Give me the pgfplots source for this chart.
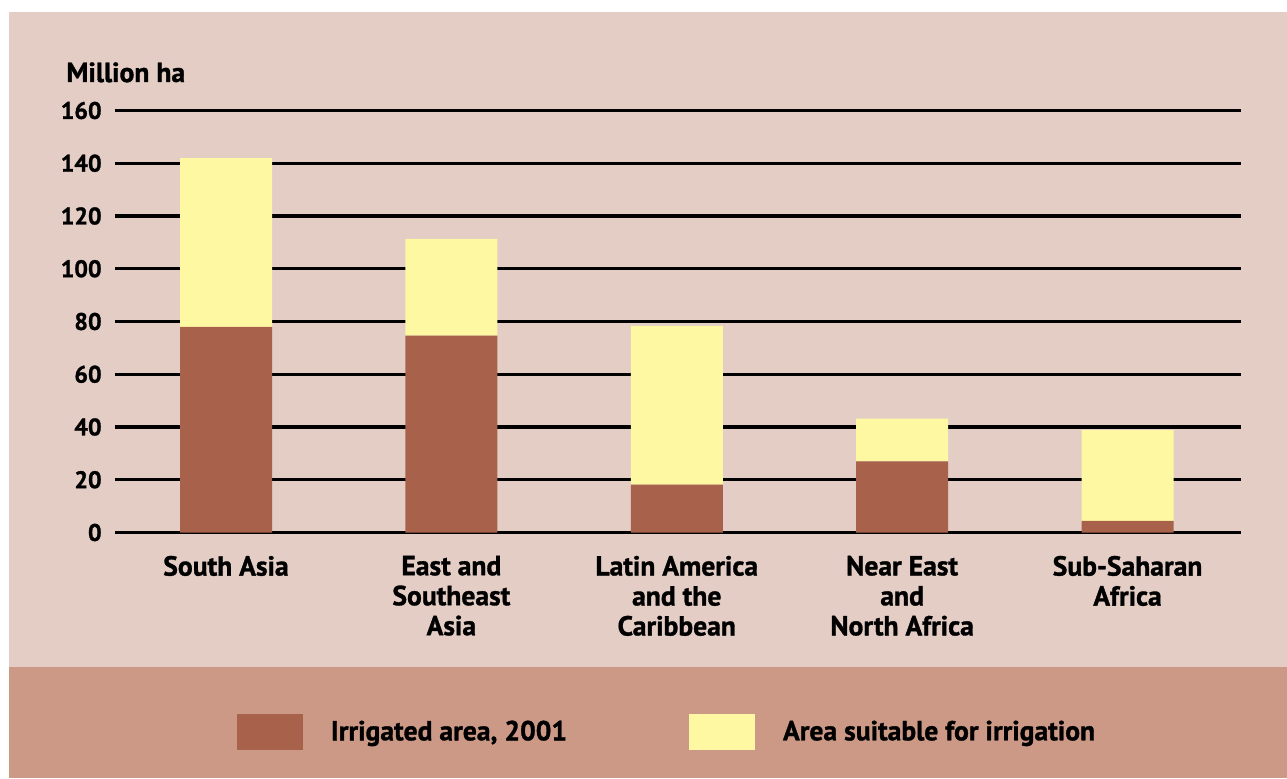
\documentclass[border=0pt]{standalone}
\usepackage{pgfplots}
\pgfplotsset{compat=1.18}
\usepackage{fontspec}
\setmainfont{PT Sans}[BoldFeatures={FakeBold=1.2}]
\definecolor{bgpink}{RGB}{227,205,197}
\definecolor{bandpink}{RGB}{204,153,135}
\definecolor{brownbar}{RGB}{168,98,75}
\definecolor{yellowbar}{RGB}{255,248,162}
\pgfplotsset{sq legend/.style={legend image code/.code={\fill[##1] (0pt,-9pt) rectangle (33pt,9pt);}}}
\begin{document}
\begin{tikzpicture}
\useasboundingbox (-57.5pt,-122.75pt) rectangle (586pt,266.25pt);
\fill[white] (-57.5pt,-122.75pt) rectangle (586pt,266.25pt);
\fill[bgpink] (-53pt,-67.25pt) rectangle (586pt,260.25pt);
\fill[bandpink] (-53pt,-122.75pt) rectangle (586pt,-67.25pt);
\begin{axis}[
  at={(0pt,0pt)}, anchor=south west,
  scale only axis, width=562.85pt, height=211pt,
  ybar stacked, bar width=46pt,
  xmin=-0.4925, xmax=4.502, ymin=0, ymax=160,
  ytick={0,20,...,160},
  xtick={0,1,2,3,4},
  xticklabels={{South Asia},{East and\\Southeast\\Asia},{Latin America\\and the\\Caribbean},{Near East\\and\\North Africa},{Sub-Saharan\\Africa}},
  axis line style={draw=none},
  major tick style={draw=none},
  ymajorgrids, major grid style={black, line width=1.6pt},
  /pgf/number format/assume math mode=true,
  yticklabel style={font=\bfseries\fontsize{12}{14}\selectfont, anchor=east, inner sep=0pt, xshift=-6.5pt},
  xticklabel style={font=\bfseries\fontsize{13.8}{15}\selectfont, anchor=north, align=center, inner sep=0pt, yshift=-11.5pt},
  legend style={at={(0.4895,-0.4727)}, anchor=center, draw=none, fill=none, legend columns=2,
    font=\bfseries\fontsize{13.8}{15}\selectfont,
    /tikz/every even column/.append style={column sep=61pt},
    /tikz/every odd column/.append style={column sep=14pt},
    nodes={inner sep=0pt}},
  legend cell align=left,
]
\addplot[fill=brownbar, draw=none, sq legend] coordinates {(0,78) (1,74.6) (2,18.2) (3,27) (4,4.4)};
\addplot[fill=yellowbar, draw=none, sq legend] coordinates {(0,63.9) (1,36.7) (2,60.1) (3,16.2) (4,34.4)};
\legend{{Irrigated area, 2001},{Area suitable for irrigation}}
\end{axis}
\node[anchor=base west, font=\bfseries\fontsize{13.8}{15}\selectfont, inner sep=0pt] at (-24.5pt,225.25pt) {Million ha};
\end{tikzpicture}
\end{document}
